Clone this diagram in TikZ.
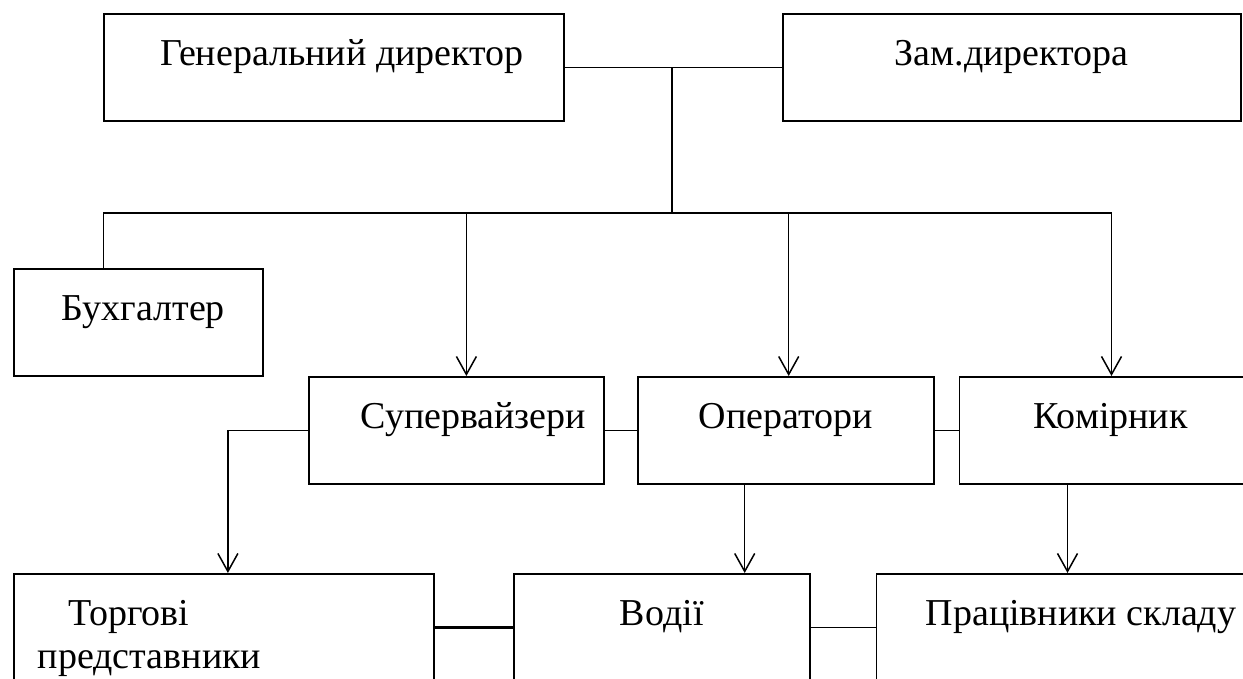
\documentclass[tikz,border=0pt]{standalone}
\usepackage{fontspec}
\setmainfont{Liberation Serif}
\usetikzlibrary{positioning, arrows.meta}

\begin{document}
\begin{tikzpicture}[
    x=0.5pt, y=-0.5pt,
    box/.style={draw, line width=0.9pt, inner sep=0pt, anchor=north west, text height=26pt, text depth=27.5pt, font=\fontsize{19}{21.5}\selectfont},
    link/.style={line width=0.75pt},
    arr/.style={link, -{Straight Barb[length=9pt, width=10pt]}}
  ]

  \useasboundingbox (0,0) rectangle (1243,679);

  \node[box, minimum width=230pt] (gen) at (103,13) {\hspace*{8pt}Генеральний директор};
  \node[box, minimum width=229pt, right=108.5pt of gen] (zam) {Зам.директора};

  \node[box, minimum width=124.5pt] (buh) at (13,268) {\hspace*{5pt}Бухгалтер};

  \node[box, minimum width=147.5pt] (sup) at (308,376) {\hspace*{17pt}Супервайзери};
  \node[box, minimum width=148pt, right=16pt of sup] (oper) {Оператори};
  \node[box, minimum width=143pt, right=12pt of oper] (kom) {\hspace*{8pt}Комірник};

  \node[box, text width=186pt, inner xsep=12pt, align=left] (torg) at (13,573) {\hspace*{15.5pt}Торгові\\представники};
  \node[box, minimum width=148pt, right=39pt of torg] (vod) {Водії};
  \node[box, minimum width=184.5pt, right=32.5pt of vod] (prac) {\hspace*{20pt}Працівники складу};

  \draw[link] (gen) -- (zam);
  \coordinate (hub) at (672,213);
  \draw[link] (hub) -- (hub |- gen.east);

  \coordinate (b-in) at ([shift={(-35,0)}]buh.north);
  \coordinate (s-in) at ([shift={(10,0)}]sup.north);
  \coordinate (o-in) at ([shift={(3,0)}]oper.north);
  \coordinate (k-in) at ([shift={(9,0)}]kom.north);

  \draw[arr] (b-in) |- (k-in |- hub) -- (k-in);
  \draw[arr] (s-in |- hub) -- (s-in);
  \draw[arr] (o-in |- hub) -- (o-in);

  \draw[link] (sup) -- (oper);
  \draw[link] (oper) -- (kom);
  \draw[arr] (sup.west) -| ([shift={(4,0)}]torg.north);

  \coordinate (o-out) at ([shift={(-41,0)}]oper.south);
  \coordinate (k-out) at ([shift={(-35,0)}]kom.south);
  \draw[arr] (o-out) -- (o-out |- vod.north);
  \draw[arr] (k-out) -- (k-out |- prac.north);

  \draw[line width=1.4pt] (torg) -- (vod);
  \draw[link] (vod) -- (prac);

\end{tikzpicture}
\end{document}
